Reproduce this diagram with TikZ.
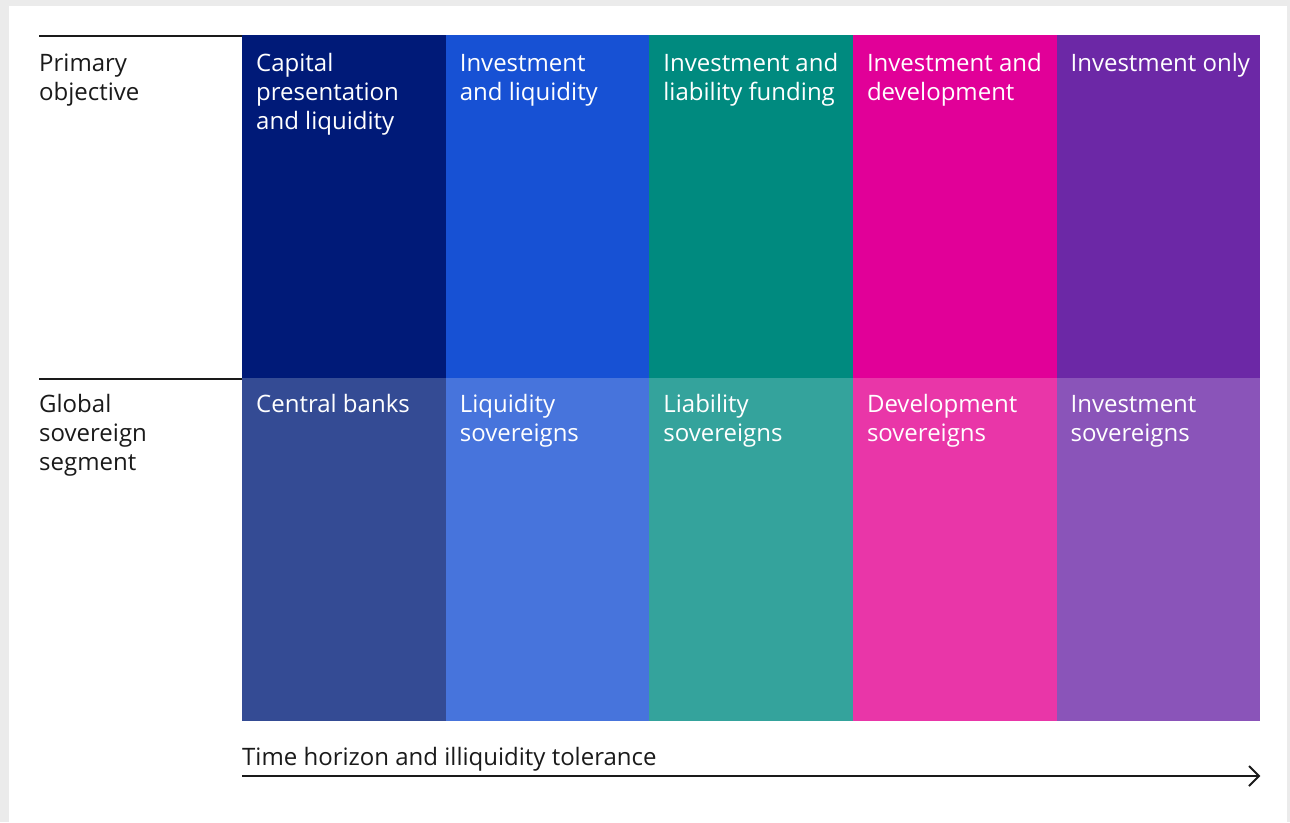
\documentclass[tikz,border=0pt]{standalone}
\usepackage{fontspec}
\setmainfont{Open Sans}
\usepackage{xcolor}
\usetikzlibrary{arrows.meta,positioning}

\definecolor{topA}{HTML}{001A78}
\definecolor{topB}{HTML}{1751D4}
\definecolor{topC}{HTML}{008A7F}
\definecolor{topD}{HTML}{E10098}
\definecolor{topE}{HTML}{6C28A6}
\definecolor{botA}{HTML}{344B94}
\definecolor{botB}{HTML}{4774DC}
\definecolor{botC}{HTML}{34A39C}
\definecolor{botD}{HTML}{E936A8}
\definecolor{botE}{HTML}{8A54B9}
\definecolor{inkgrey}{HTML}{1A1A1A}
\definecolor{framegrey}{HTML}{EBEBEB}

\begin{document}
\begin{tikzpicture}[x=1pt,y=-1pt,
    cell/.style={inner sep=0,minimum width=203.6pt,minimum height=343pt,anchor=north west},
    celltext/.style={text=white,anchor=north west,align=left,inner sep=0,font=\fontsize{24}{29}\selectfont},
    rowlabel/.style={text=inkgrey,anchor=north west,align=left,inner sep=0,font=\fontsize{24}{29}\selectfont}]
    % frame
    \useasboundingbox (0,0) rectangle (1290,822);
    \fill[framegrey] (0,0) rectangle (1290,822);
    \fill[white] (9,6) rectangle (1287,822);
    % rows on the left
    \coordinate (objline) at (39,36);
    \coordinate (segline) at (39,379);
    \draw[inkgrey,line width=2pt] (objline) -- ++(203,0);
    \draw[inkgrey,line width=2pt] (segline) -- ++(203,0);
    \node[rowlabel] (objlabel) at (39,50.7) {\strut Primary\\objective};
    \node[rowlabel] (seglabel) at (39,391.7) {\strut Global\\sovereign\\segment};
    % the five columns
    \foreach \i/\c/\ttop/\tbot in {0/A/{Capital\\presentation\\and liquidity}/{Central banks},
        1/B/{Investment\\and liquidity}/{Liquidity\\sovereigns},
        2/C/{Investment and\\liability funding}/{Liability\\sovereigns},
        3/D/{Investment and\\development}/{Development\\sovereigns},
        4/E/{Investment only}/{Investment\\sovereigns}}{
        \node[cell,fill=top\c] (obj\c) at (242+203.6*\i,35) {};
        \node[cell,fill=bot\c] (seg\c) at (242+203.6*\i,378) {};
        \node[celltext] (objtext\c) at ([xshift=14pt,yshift=-15.7pt]obj\c.north west) {\strut\ttop};
        \node[celltext] (segtext\c) at ([xshift=14pt,yshift=-13.7pt]seg\c.north west) {\strut\tbot};
    }
    % time axis
    \coordinate (axisstart) at (segA.south west |- 0,776);
    \coordinate (axisend) at (segE.south east |- 0,776);
    \draw[inkgrey,line width=2pt,-{Straight Barb[length=10pt,width=20pt]}] (axisstart) -- (axisend);
    \node[rowlabel,anchor=base west] (axislabel) at (242,765) {Time horizon and illiquidity tolerance};
\end{tikzpicture}
\end{document}
